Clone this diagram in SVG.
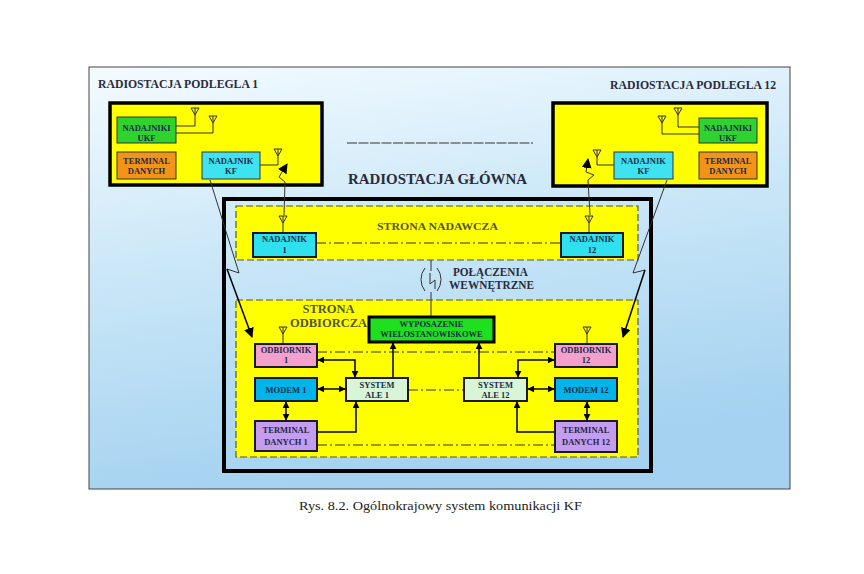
<svg xmlns="http://www.w3.org/2000/svg" xmlns:xlink="http://www.w3.org/1999/xlink" width="864" height="574" viewBox="0 0 864 574">
<defs>
<linearGradient id="bg" x1="0" y1="0" x2="0.25" y2="1">
<stop offset="0" stop-color="#f4fbff"/>
<stop offset="0.45" stop-color="#cce8f8"/>
<stop offset="1" stop-color="#a4d2f0"/>
</linearGradient>
<marker id="ah" viewBox="0 0 10 10" refX="9" refY="5" markerWidth="7" markerHeight="7" markerUnits="userSpaceOnUse" orient="auto-start-reverse">
<path d="M0,0 L10,5 L0,10 z" fill="#000"/>
</marker>
<marker id="ahb" viewBox="0 0 10 10" refX="9" refY="5" markerWidth="10" markerHeight="10" markerUnits="userSpaceOnUse" orient="auto">
<path d="M0,0 L10,5 L0,10 z" fill="#000"/>
</marker>
<g id="ant"><path d="M-4,0 H4 L0,7 Z M0,0 V7" fill="none" stroke="#333" stroke-width="1"/></g>
<style>
.t{font-family:"Liberation Serif","Times New Roman",serif;font-weight:bold;fill:#1b2a48;text-anchor:middle;font-size:8.5px}
.h{font-family:"Liberation Serif","Times New Roman",serif;font-weight:bold;fill:#2b2b3b}
.st{font-family:"Liberation Serif","Times New Roman",serif;font-weight:bold;fill:#55553c;text-anchor:middle}
.box{stroke:#1a1a1a;stroke-width:2}
.tbox{stroke:#333;stroke-width:1}
.dash{fill:#ffff00;stroke:#555540;stroke-width:1.2;stroke-dasharray:7 3}
.dd{fill:none;stroke:#333;stroke-width:1;stroke-dasharray:10 3 2 3}
.ln{fill:none;stroke:#000;stroke-width:1.5}
.thin{fill:none;stroke:#333;stroke-width:1}
</style>
</defs>

<rect x="89" y="67" width="701" height="422" fill="url(#bg)" stroke="#444" stroke-width="1"/>

<g id="station-left">
<rect x="110" y="103" width="212" height="82" fill="#ffff00" stroke="#000" stroke-width="3.5"/>
<text class="h" x="98" y="88" font-size="12" textLength="160" lengthAdjust="spacingAndGlyphs">RADIOSTACJA PODLEGLA 1</text>
</g>
<g id="station-right">
<rect x="553" y="103" width="214" height="83" fill="#ffff00" stroke="#000" stroke-width="3.5"/>
<text class="h" x="610" y="89" font-size="12" textLength="166" lengthAdjust="spacingAndGlyphs">RADIOSTACJA PODLEGLA 12</text>
</g>

<g id="ellipsis">
<line x1="347" y1="143" x2="533" y2="143" stroke="#333" stroke-width="1" stroke-dasharray="10 1.5"/>
</g>

<g id="station-main">
<text class="h" x="348" y="184" font-size="15" textLength="179" lengthAdjust="spacingAndGlyphs">RADIOSTACJA  GŁÓWNA</text>
<rect x="236" y="206" width="402" height="54" class="dash"/>
<rect x="236" y="300" width="402" height="157" class="dash"/>
<rect x="224" y="199" width="427" height="272" fill="none" stroke="#000" stroke-width="4"/>
<text class="st" x="437.5" y="230" font-size="11" textLength="121" lengthAdjust="spacingAndGlyphs">STRONA NADAWCZA</text>
<text class="st" x="328.5" y="313" font-size="12.5">STRONA</text>
<text class="st" x="328.5" y="327" font-size="12.5">ODBIORCZA</text>
<text class="h" x="453" y="276" font-size="12" fill="#2a3040" textLength="75" lengthAdjust="spacingAndGlyphs">POŁĄCZENIA</text>
<text class="h" x="449" y="289" font-size="12" fill="#2a3040" textLength="85" lengthAdjust="spacingAndGlyphs">WEWNĘTRZNE</text>
</g>

<g id="connectors">
<!-- antennas and feeds, left station -->
<use href="#ant" x="195" y="108"/>
<use href="#ant" x="213" y="116"/>
<use href="#ant" x="278" y="149"/>
<path class="thin" d="M176,126 H195 V115 M176,133 H213 V123 M260,165 H278 V156"/>
<!-- right station -->
<use href="#ant" x="678" y="108"/>
<use href="#ant" x="662" y="116"/>
<use href="#ant" x="597" y="150"/>
<path class="thin" d="M699,127 H678 V115 M699,134 H662 V123 M614,165 H597 V157"/>
<!-- main station antennas -->
<use href="#ant" x="283" y="216"/>
<use href="#ant" x="589" y="216"/>
<use href="#ant" x="283" y="327"/>
<use href="#ant" x="587" y="327"/>
<path class="thin" d="M283,223 V233 M589,223 V233 M283,334 V344 M587,334 V344"/>
<!-- radio links nadajnik -> station antennas -->
<path class="thin" d="M284,215 L285,182 L279,177 L287,164" marker-end="url(#ahb)"/>
<path class="thin" d="M590,215 L588,180 L594,175 L586,172 L588,159" marker-end="url(#ahb)"/>
<!-- radio links station KF -> odbiornik -->
<path class="thin" d="M210,180 L239,273 L227,269"/>
<path class="ln" d="M227,269 L252,337" marker-end="url(#ahb)"/>
<path class="thin" d="M667,180 L633,273 L645,270"/>
<path class="ln" d="M645,270 L623,337" marker-end="url(#ahb)"/>
<!-- dash-dot lines -->
<line class="dd" x1="316" y1="243" x2="561" y2="243"/>
<line class="dd" x1="317" y1="352" x2="555" y2="352"/>
<line class="dd" x1="408" y1="390" x2="464" y2="390"/>
<line class="dd" x1="317" y1="445" x2="555" y2="445"/>
<!-- internal links symbol -->
<path class="thin" d="M431,260 V271 M430,273 V284 L435,280 V289 M431,292 V317"/>
<path class="thin" d="M425,268 A18.5,18.5 0 0 0 425,291 M437,268 A18.5,18.5 0 0 1 437,291"/>
<!-- lower left arrows -->
<path class="ln" d="M318,360 H355 V377" marker-start="url(#ah)" marker-end="url(#ah)"/>
<path class="ln" d="M318,389 H345" marker-start="url(#ah)" marker-end="url(#ah)"/>
<path class="ln" d="M286,402 V420" marker-start="url(#ah)" marker-end="url(#ah)"/>
<path class="ln" d="M317,432 H356 V402" marker-end="url(#ah)"/>
<path class="ln" d="M393,378 V343" marker-end="url(#ah)"/>
<!-- lower right arrows -->
<path class="ln" d="M554,360 H518 V377" marker-start="url(#ah)" marker-end="url(#ah)"/>
<path class="ln" d="M528,389 H554" marker-start="url(#ah)" marker-end="url(#ah)"/>
<path class="ln" d="M587,402 V420" marker-start="url(#ah)" marker-end="url(#ah)"/>
<path class="ln" d="M555,432 H517 V402" marker-end="url(#ah)"/>
<path class="ln" d="M479,378 V343" marker-end="url(#ah)"/>
</g>

<g id="nadajniki-ukf-1">
<rect x="117" y="117" width="59" height="26" fill="#2fd32f" class="tbox"/>
<text class="t" x="146.5" y="131">NADAJNIKI</text>
<text class="t" x="146.5" y="140.5">UKF</text>
</g>
<g id="terminal-danych-1s">
<rect x="117" y="152" width="59" height="27" fill="#f39418" class="tbox"/>
<text class="t" x="146.5" y="164">TERMINAL</text>
<text class="t" x="146.5" y="174">DANYCH</text>
</g>
<g id="nadajnik-kf-1s">
<rect x="202" y="152" width="58" height="27" fill="#3fe3ef" class="tbox"/>
<text class="t" x="231" y="164">NADAJNIK</text>
<text class="t" x="231" y="174">KF</text>
</g>

<g id="nadajniki-ukf-12">
<rect x="699" y="118" width="58" height="25" fill="#2fd32f" class="tbox"/>
<text class="t" x="728" y="131">NADAJNIKI</text>
<text class="t" x="728" y="140.5">UKF</text>
</g>
<g id="terminal-danych-12s">
<rect x="699" y="152" width="58" height="27" fill="#f39418" class="tbox"/>
<text class="t" x="728" y="164">TERMINAL</text>
<text class="t" x="728" y="174">DANYCH</text>
</g>
<g id="nadajnik-kf-12s">
<rect x="614" y="152" width="59" height="27" fill="#3fe3ef" class="tbox"/>
<text class="t" x="643.5" y="164">NADAJNIK</text>
<text class="t" x="643.5" y="174">KF</text>
</g>

<g id="nadajnik-1">
<rect x="253" y="233" width="63" height="24" fill="#2fe0ee" class="box"/>
<text class="t" x="284.5" y="242" font-size="8">NADAJNIK</text>
<text class="t" x="284.5" y="253" font-size="8">1</text>
</g>
<g id="nadajnik-12">
<rect x="561" y="233" width="62" height="24" fill="#2fe0ee" class="box"/>
<text class="t" x="592" y="242" font-size="8">NADAJNIK</text>
<text class="t" x="592" y="253" font-size="8">12</text>
</g>

<g id="wyposazenie">
<rect x="369" y="317" width="125" height="25" fill="#1ee01e" stroke="#000" stroke-width="3"/>
<text class="t" x="431.5" y="326.5" font-size="8">WYPOSAZENIE</text>
<text class="t" x="431.5" y="336.5" font-size="8.5">WIELOSTANOWISKOWE</text>
</g>

<g id="odbiornik-1">
<rect x="255" y="344" width="62" height="23" fill="#f4a0cc" class="box"/>
<text class="t" x="286" y="353">ODBIORNIK</text>
<text class="t" x="286" y="363">1</text>
</g>
<g id="modem-1">
<rect x="255" y="378" width="62" height="23" fill="#00b4ec" class="box"/>
<text class="t" x="286" y="393">MODEM 1</text>
</g>
<g id="terminal-danych-1">
<rect x="255" y="421" width="62" height="30" fill="#c49cf0" class="box"/>
<text class="t" x="286" y="433" font-size="9">TERMINAL</text>
<text class="t" x="286" y="445" font-size="9">DANYCH 1</text>
</g>
<g id="system-ale-1">
<rect x="346" y="378" width="62" height="23" fill="#d8f5d8" class="box"/>
<text class="t" x="377" y="387.5">SYSTEM</text>
<text class="t" x="377" y="398">ALE 1</text>
</g>

<g id="odbiornik-12">
<rect x="555" y="344" width="62" height="23" fill="#f4a0cc" class="box"/>
<text class="t" x="586" y="353">ODBIORNIK</text>
<text class="t" x="586" y="363">12</text>
</g>
<g id="modem-12">
<rect x="555" y="378" width="62" height="23" fill="#00b4ec" class="box"/>
<text class="t" x="586" y="393">MODEM 12</text>
</g>
<g id="terminal-danych-12">
<rect x="555" y="421" width="62" height="31" fill="#c49cf0" class="box"/>
<text class="t" x="586" y="433" font-size="9">TERMINAL</text>
<text class="t" x="586" y="445" font-size="9">DANYCH 12</text>
</g>
<g id="system-ale-12">
<rect x="464" y="378" width="63" height="23" fill="#d8f5d8" class="box"/>
<text class="t" x="495.5" y="387.5">SYSTEM</text>
<text class="t" x="495.5" y="398">ALE 12</text>
</g>

<text x="440.5" y="510" font-family="'Liberation Serif','Times New Roman',serif" font-size="13" fill="#222" text-anchor="middle" textLength="283" lengthAdjust="spacingAndGlyphs">Rys. 8.2. Ogólnokrajowy system komunikacji KF</text>
</svg>
